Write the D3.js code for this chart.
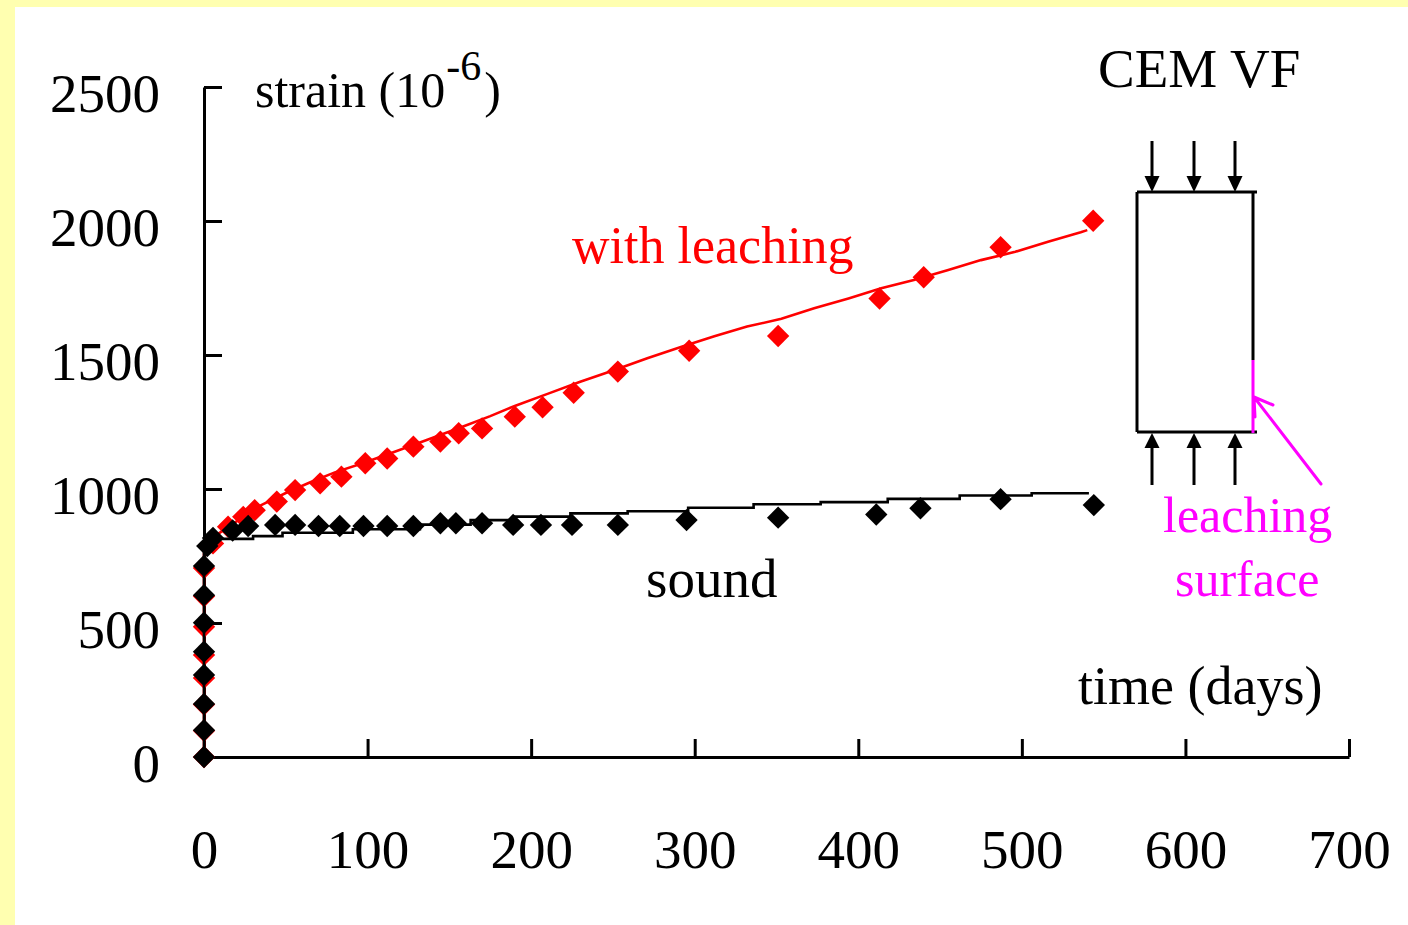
<!DOCTYPE html>
<html>
<head>
<meta charset="utf-8">
<script src="https://cdn.jsdelivr.net/npm/d3@7"></script>
<style>
  html, body { margin: 0; padding: 0; background: #ffffb0; }
  svg { display: block; }
  text { font-family: "Liberation Serif", "Times New Roman", serif; }
</style>
</head>
<body>
<svg id="chart" width="1408" height="925"></svg>
<script>
// Measured strain under sustained load, sound vs. leached specimens (days, 10^-6)
const soundDays   = [0, 0, 0, 0, 0, 0, 0, 0, 2, 5.5, 17.5, 27, 43.5, 55.7, 70, 83, 97.5, 112, 128, 144.5, 154, 170, 189, 206, 225, 253, 295, 351, 411, 438, 487, 544];
const soundStrain = [0, 100, 198, 306, 393, 501, 604, 713, 787, 817, 845, 862, 866, 866, 862, 862, 862, 862, 862, 872, 872, 872, 866, 866, 866, 866, 884, 893, 905, 928, 962, 940];

const leachDays   = [0, 0, 0, 0, 0, 0, 0, 0, 5.5, 14.7, 24, 31, 44.5, 55.7, 71, 84, 98.6, 112, 128, 144.5, 155.7, 170, 190, 207, 226, 253, 296.6, 351, 413, 440, 487, 543.6];
const leachStrain = [0, 98, 196, 295, 381, 486, 600, 705, 797, 859, 896, 921, 953, 996, 1021, 1046, 1096, 1114, 1158, 1177, 1208, 1226, 1270, 1305, 1359, 1438, 1516, 1571, 1711, 1790, 1902, 2001];

// Model curves (vertices of the computed response)
const soundModelDays   = [0, 0, 3, 30, 48, 91, 132, 163, 189, 224, 259, 296, 336, 377, 418, 462, 506, 541];
const soundModelStrain = [0, 790, 814, 824, 837, 850, 867, 884, 897, 909, 917, 930, 943, 951, 963, 976, 984, 984];

const leachModelDays   = [0, 0, 1.5, 8, 15, 25, 35, 50, 65, 80, 97, 117, 137, 158, 175, 190, 210, 230, 251, 271, 292, 312, 332, 353, 373, 394, 414, 434, 455, 475, 496, 516, 536, 540];
const leachModelStrain = [0, 760, 790, 830, 859, 900, 940, 985, 1025, 1062, 1096, 1140, 1185, 1232, 1272, 1310, 1355, 1400, 1444, 1488, 1531, 1570, 1606, 1635, 1674, 1711, 1749, 1780, 1817, 1854, 1885, 1923, 1958, 1966];

const xTicks = [0, 100, 200, 300, 400, 500, 600, 700];
const yTicks = [0, 500, 1000, 1500, 2000, 2500];

const svg = d3.select("#chart");

// white panel over the pale yellow page
svg.append("rect").attr("x", 15).attr("y", 7).attr("width", 1408 - 15).attr("height", 925 - 7).attr("fill", "#ffffff");

const x = d3.scaleLinear().domain([0, 700]).range([204, 1349]);
const y = d3.scaleLinear().domain([0, 2500]).range([757, 87]);

const zip = (a, b) => a.map((v, i) => [v, b[i]]);

// axes
const yAxis = d3.axisLeft(y).tickValues(yTicks).tickSizeInner(-18).tickSizeOuter(0).tickPadding(44).tickFormat(d3.format("d"));
const gy = svg.append("g").attr("transform", `translate(${x(0)},0)`).call(yAxis);
gy.selectAll("text").attr("dy", null).attr("y", 24).attr("font-size", 55).attr("fill", "#000")
  .attr("font-family", "Liberation Serif, Times New Roman, serif");

const xAxis = d3.axisBottom(x).tickValues(xTicks).tickSizeInner(-18).tickSizeOuter(0).tickFormat(d3.format("d"));
const gx = svg.append("g").attr("transform", `translate(0,${y(0)})`).call(xAxis);
gx.selectAll("text").attr("dy", null).attr("y", 111).attr("font-size", 55).attr("fill", "#000")
  .attr("font-family", "Liberation Serif, Times New Roman, serif");

[gx, gy].forEach(g => {
  g.select(".domain").attr("stroke", "#000").attr("stroke-width", 3);
  g.selectAll(".tick line").attr("stroke", "#000").attr("stroke-width", 3);
});

// series
const line = d3.line().x(d => x(d[0])).y(d => y(d[1]));
const stepLine = d3.line().x(d => x(d[0])).y(d => y(d[1])).curve(d3.curveStepAfter);
const diamond = d3.symbol().type(d3.symbolSquare).size(250);

function drawMarkers(days, strain, color) {
  svg.append("g").selectAll("path").data(zip(days, strain)).join("path")
    .attr("d", diamond)
    .attr("transform", d => `translate(${x(d[0])},${y(d[1])}) rotate(45)`)
    .attr("fill", color);
}

svg.append("path").datum(zip(leachModelDays, leachModelStrain))
  .attr("d", line).attr("fill", "none").attr("stroke", "#ff0000").attr("stroke-width", 2.6);
drawMarkers(leachDays, leachStrain, "#ff0000");

svg.append("path").datum(zip(soundModelDays, soundModelStrain))
  .attr("d", stepLine).attr("fill", "none").attr("stroke", "#000").attr("stroke-width", 2.6);
drawMarkers(soundDays, soundStrain, "#000");

// labels
const label = (t, px, py, size, color) =>
  svg.append("text").attr("x", px).attr("y", py).attr("font-size", size).attr("fill", color).text(t);

const yTitle = svg.append("text").attr("x", 255).attr("y", 107).attr("font-size", 50).attr("fill", "#000");
yTitle.append("tspan").text("strain (10");
yTitle.append("tspan").attr("font-size", 42).attr("dy", -27).attr("dx", 1).text("-6");
yTitle.append("tspan").attr("dy", 27).attr("dx", 3).text(")");

label("CEM VF", 1098, 87, 55, "#000");
label("with leaching", 572, 263, 52, "#ff0000");
label("sound", 646, 597, 55, "#000");
label("time (days)", 1078, 704, 54, "#000");
label("leaching", 1163, 532, 50, "#ff00ff");
label("surface", 1175, 596, 50, "#ff00ff");

// loaded specimen sketch
const spec = svg.append("g");
const sL = 1137, sR = 1253, sT = 192, sB = 432;
spec.append("line").attr("x1", sL).attr("y1", sT).attr("x2", sR + 4).attr("y2", sT);
spec.append("line").attr("x1", sL).attr("y1", sB).attr("x2", sR + 4).attr("y2", sB);
spec.append("line").attr("x1", sL).attr("y1", sT).attr("x2", sL).attr("y2", sB);
spec.append("line").attr("x1", sR).attr("y1", sT).attr("x2", sR).attr("y2", 360);
spec.selectAll("line").attr("stroke", "#000").attr("stroke-width", 3);

[1152, 1194, 1235].forEach(ax => {
  spec.append("line").attr("x1", ax).attr("y1", 141).attr("x2", ax).attr("y2", 178)
    .attr("stroke", "#000").attr("stroke-width", 3);
  spec.append("path").attr("d", `M${ax - 7.5},176 L${ax + 7.5},176 L${ax},${sT} Z`).attr("fill", "#000");
  spec.append("line").attr("x1", ax).attr("y1", 446).attr("x2", ax).attr("y2", 485)
    .attr("stroke", "#000").attr("stroke-width", 3);
  spec.append("path").attr("d", `M${ax - 7.5},448 L${ax + 7.5},448 L${ax},${sB + 1} Z`).attr("fill", "#000");
});

// exposed face and pointer
spec.append("line").attr("x1", sR).attr("y1", 360).attr("x2", sR).attr("y2", sB + 1)
  .attr("stroke", "#ff00ff").attr("stroke-width", 3);
spec.append("path")
  .attr("d", `M1321,484 L1254,397 M1254,397 L1273,405 M1254,397 L1255,417`)
  .attr("fill", "none").attr("stroke", "#ff00ff").attr("stroke-width", 3).attr("stroke-linecap", "round");
</script>
</body>
</html>
